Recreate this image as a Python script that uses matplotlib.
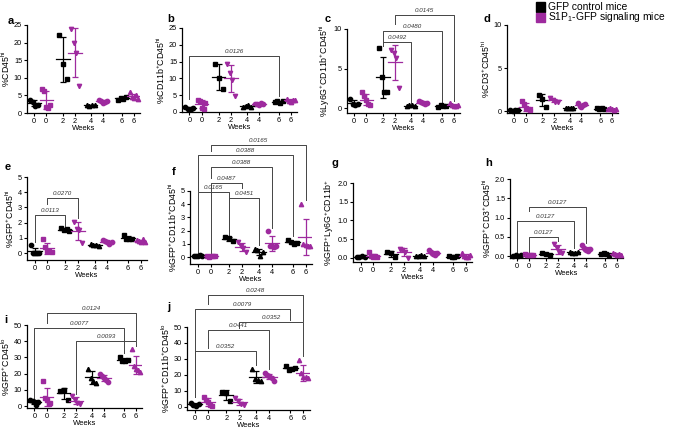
import numpy as np
import matplotlib.pyplot as plt
from matplotlib.patches import Rectangle

plt.rcParams["font.family"] = ["Liberation Sans", "DejaVu Sans"]
plt.rcParams["mathtext.fontset"] = "custom"
plt.rcParams["mathtext.rm"] = "Liberation Sans"
plt.rcParams["mathtext.it"] = "Liberation Sans:italic"

W, H = 676, 428
BLACK = "#000000"
PURPLE = "#9E2A9E"
BRACKET = "#444444"

week_labels = ["0", "0", "2", "2", "4", "4", "6", "6"]
legend_labels = ["GFP control mice", "S1P$_1$-GFP signaling mice"]

# group order: control w0, S1P1 w0, control w2, S1P1 w2, control w4, S1P1 w4, control w6, S1P1 w6
cd45_hi = [[3.8, 3.0, 2.0, 2.4], [6.8, 6.2, 1.7, 1.5, 2.2], [22.2, 13.9, 9.7], [24.0, 20.0, 17.0, 7.6],
           [2.2, 2.0, 2.4, 2.3], [3.6, 3.3, 2.9, 3.1, 3.5], [3.8, 4.4, 4.1, 4.5], [5.9, 4.6, 4.2, 5.0, 4.1]]
cd11b_cd45_hi = [[1.6, 1.0, 0.8, 1.2], [3.6, 3.3, 1.2, 1.0, 2.6], [14.4, 10.2, 6.7], [14.2, 11.5, 9.5, 4.7],
                 [1.6, 1.9, 2.0, 1.5], [2.5, 2.4, 2.2, 2.6, 2.3], [3.0, 3.4, 2.7, 3.2], [3.9, 3.3, 3.0, 3.6, 3.5]]
ly6g_cd11b_cd45_hi = [[1.2, 0.5, 0.4, 0.5], [2.0, 1.5, 1.0, 0.5, 0.4], [7.6, 3.9, 2.0, 2.1], [7.3, 7.0, 6.3, 2.5],
                      [0.3, 0.35, 0.4, 0.3], [0.9, 0.8, 0.6, 0.5, 0.7], [0.2, 0.4, 0.3, 0.25], [0.7, 0.4, 0.3, 0.3, 0.4]]
cd3_cd45_hi = [[0.1, 0.05, 0.15, 0.1], [1.2, 0.8, 0.3, 0.2, 0.1], [1.9, 1.4, 0.5], [1.5, 1.3, 1.1, 1.0],
               [0.4, 0.3, 0.4, 0.35], [0.9, 0.6, 0.5, 0.7, 0.8], [0.3, 0.25, 0.3, 0.2], [0.2, 0.3, 0.25, 0.15, 0.2]]
gfp_cd45_hi = [[0.55, 0.0, 0.0, 0.0, 0.02], [0.9, 0.4, 0.1, 0.1, 0.05], [1.62, 1.5, 1.55, 1.42], [2.05, 1.6, 1.5, 0.65],
               [0.62, 0.5, 0.55, 0.45], [0.85, 0.8, 0.7, 0.6, 0.75], [1.2, 0.95, 0.9, 0.95], [0.85, 0.8, 0.75, 0.9, 0.72]]
gfp_cd11b_cd45_hi = [[0.1, 0.05, 0.1, 0.15, 0.05], [0.05, 0.02, 0.05, 0.08, 0.04], [1.5, 1.45, 1.2], [1.1, 0.8, 0.7, 0.4],
                     [0.6, 0.5, 0.1, 0.4], [2.0, 0.8, 0.8, 0.75, 0.8], [1.3, 1.1, 1.0, 1.05], [4.0, 1.0, 0.9, 0.85, 0.85]]
gfp_ly6g_cd11b = [[0.03, 0.02, 0.04, 0.03], [0.15, 0.05, 0.03, 0.04, 0.02], [0.15, 0.14, 0.02], [0.25, 0.2, 0.15, 0.0],
                  [0.06, 0.05, 0.07, 0.06], [0.2, 0.15, 0.1, 0.08, 0.12], [0.05, 0.03, 0.02, 0.04], [0.12, 0.05, 0.02, 0.03, 0.08]]
gfp_cd3_cd45_hi = [[0.01, 0.02, 0.01, 0.02], [0.05, 0.03, 0.02, 0.04, 0.03], [0.08, 0.05, 0.04], [0.32, 0.2, 0.1, 0.08],
                   [0.1, 0.08, 0.09, 0.11], [0.28, 0.2, 0.15, 0.12, 0.18], [0.05, 0.07, 0.06, 0.04], [0.08, 0.05, 0.04, 0.06, 0.03]]
gfp_cd45_lo = [[3.5, 3.0, 0.5, 2.5], [15.5, 5.0, 4.0, 1.5, 2.0], [9.5, 9.8, 4.0], [6.0, 4.0, 2.0, 1.5],
               [23.0, 17.5, 15.5, 14.5], [19.5, 18.5, 17.5, 16.0, 15.0], [30.0, 28.0, 27.5, 28.5], [35.0, 25.0, 23.0, 22.0, 21.0]]
gfp_cd11b_cd45_lo = [[2.5, 1.5, 0.5, 2.0], [6.0, 4.5, 3.0, 1.5, 0.5], [9.5, 9.0, 4.0], [5.5, 3.5, 2.0, 1.5],
                     [24.0, 17.5, 17.0, 16.5], [21.0, 20.0, 19.5, 18.0, 16.5], [25.5, 23.0, 23.5, 24.5], [29.5, 21.0, 19.0, 18.5, 18.0]]

# significance brackets: (group a, group b, p value)
brackets_b = [(0, 6, "0.0126")]
brackets_c = [(2, 4, "0.0492"), (2, 6, "0.0480"), (3, 7, "0.0145")]
brackets_e = [(0, 2, "0.0113"), (1, 3, "0.0270")]
brackets_f = [(1, 7, "0.0165"), (0, 6, "0.0388"), (1, 5, "0.0388"), (1, 3, "0.0487"), (0, 2, "0.0165"), (2, 4, "0.0451")]
brackets_h = [(1, 5, "0.0127"), (0, 4, "0.0127"), (1, 3, "0.0127")]
brackets_i = [(1, 7, "0.0124"), (0, 6, "0.0077"), (3, 7, "0.0093")]
brackets_j = [(1, 7, "0.0248"), (0, 6, "0.0079"), (3, 7, "0.0352"), (1, 5, "0.0441"), (0, 4, "0.0352")]

x_pos = [0, 1, 2.4, 3.4, 4.7, 5.7, 7.3, 8.3]
colors = [BLACK, PURPLE] * 4
markers = ["o", "s", "s", "v", "^", "o", "s", "^"]

# bracket geometry per panel: (bar height, left end, right end), same order as the bracket lists
geom = {
    "b": [(16.7, 4.0, 4.8)],
    "c": [(8.4, 7.9, 0.7), (9.8, 8.4, 0.6), (11.8, 10.6, 0.9)],
    "e": [(2.5, 0.7, 1.8), (3.6, 3.2, 2.3)],
    "f": [(8.5, 8.0, 4.3), (7.7, 5.0, 1.6), (6.8, 6.0, 2.2), (5.6, 0.3, 5.2), (4.9, 0.3, 1.7), (4.45, 1.7, 0.9)],
    "h": [(1.27, 1.18, 0.33), (0.9, 0.08, 0.2), (0.5, 0.1, 0.38)],
    "i": [(57.4, 51.0, 40.5), (48.1, 4.0, 33.0), (40.1, 7.5, 37.0)],
    "j": [(70.2, 64.5, 54.0), (61.3, 6.0, 54.5), (53.3, 49.5, 32.0), (48.3, 37.0, 24.0), (35.0, 6.0, 26.0)],
}

panels = [
    ("a", cd45_hi, r"%CD45$^{\mathrm{hi}}$", (0, 25), [0, 5, 10, 15, 20, 25], (27, 140, 25, 113), []),
    ("b", cd11b_cd45_hi, r"%CD11b$^{+}$CD45$^{\mathrm{hi}}$", (0, 25), [0, 5, 10, 15, 20, 25], (182, 297, 28, 112), brackets_b),
    ("c", ly6g_cd11b_cd45_hi, r"%Ly6G$^{+}$CD11b$^{+}$CD45$^{\mathrm{hi}}$", (-0.6, 10), [0, 5, 10], (347, 460, 29, 113), brackets_c),
    ("d", cd3_cd45_hi, r"%CD3$^{+}$CD45$^{\mathrm{hi}}$", (-0.23, 10), [0, 5, 10], (507, 618, 25, 113), []),
    ("e", gfp_cd45_hi, r"%GFP$^{+}$CD45$^{\mathrm{hi}}$", (-0.46, 5), [0, 1, 2, 3, 4, 5], (27, 147, 177, 260), brackets_e),
    ("f", gfp_cd11b_cd45_hi, r"%GFP$^{+}$CD11b$^{+}$CD45$^{\mathrm{hi}}$", (-0.53, 5), [0, 1, 2, 3, 4, 5], (190, 312, 191, 264), brackets_f),
    ("g", gfp_ly6g_cd11b, r"%GFP$^{+}$Ly6G$^{+}$CD11b$^{+}$", (-0.107, 2), [0, 0.5, 1.0, 1.5, 2.0], (353, 472, 183, 262), []),
    ("h", gfp_cd3_cd45_hi, r"%GFP$^{+}$CD3$^{+}$CD45$^{\mathrm{hi}}$", (-0.05, 2), [0, 0.5, 1.0, 1.5, 2.0], (510, 623, 179, 258), brackets_h),
    ("i", gfp_cd45_lo, r"%GFP$^{+}$CD45$^{\mathrm{lo}}$", (-1.2, 50), [0, 10, 20, 30, 40, 50], (27, 142, 325, 408), brackets_i),
    ("j", gfp_cd11b_cd45_lo, r"%GFP$^{+}$CD11b$^{+}$CD45$^{\mathrm{lo}}$", (-1.9, 50), [0, 10, 20, 30, 40, 50], (187, 310, 327, 410), brackets_j),
]

letter_pos = {"a": (8, 21), "b": (167, 19), "c": (325, 19), "d": (484, 19), "e": (5, 167),
              "f": (172, 172), "g": (332, 163), "h": (485, 163), "i": (4, 320), "j": (167, 307)}

fig = plt.figure(figsize=(W / 100, H / 100), dpi=100)

for key, groups, ylabel, ylim, yticks, (L, R, top, bottom), brs in panels:
    ax = fig.add_axes([L / W, 1 - bottom / H, (R - L) / W, (bottom - top) / H])
    for k, vals in enumerate(groups):
        vals = np.array(vals)
        n = len(vals)
        xs = x_pos[k] + np.linspace(-0.32, 0.32, n)
        ax.plot(xs, vals, linestyle="none", marker=markers[k], markersize=3.1,
                color=colors[k], zorder=3, clip_on=False)
        m, sd = vals.mean(), vals.std(ddof=1)
        ax.plot([x_pos[k] - 0.55, x_pos[k] + 0.55], [m, m], color=colors[k], lw=0.9, zorder=4)
        ax.errorbar(x_pos[k], m, yerr=sd, color=colors[k], lw=0.9, capsize=2.2,
                    capthick=0.9, zorder=4, clip_on=False)
    for (ga, gb, p), (yb, yl, yr) in zip(brs, geom.get(key, [])):
        xa, xb = x_pos[ga], x_pos[gb]
        ax.plot([xa, xa, xb, xb], [yl, yb, yb, yr], color=BRACKET, lw=0.7, clip_on=False, zorder=2)
        ax.annotate(p, (0.5 * (xa + xb), yb), xytext=(0, 1.5), textcoords="offset points",
                    ha="center", va="bottom", fontsize=4.5, style="italic", color="#333333",
                    annotation_clip=False)

    ax.set_xlim(-0.6, 8.8)
    ax.set_ylim(*ylim)
    ax.set_xticks(x_pos)
    ax.set_xticklabels(week_labels)
    ax.set_yticks(yticks)
    if key in ("g", "h"):
        ax.set_yticklabels([f"{t:.1f}" for t in yticks])
    ax.spines["top"].set_visible(False)
    ax.spines["right"].set_visible(False)
    for s in ("left", "bottom"):
        ax.spines[s].set_linewidth(0.9)
    ax.tick_params(length=2, width=0.8, labelsize=5.3, pad=1.5)
    ax.set_xlabel("Weeks", fontsize=5.5, labelpad=0)
    ax.set_ylabel(ylabel, fontsize=6.3, labelpad=1.5)

    lx, ly = letter_pos[key]
    fig.text(lx / W, 1 - ly / H, key, fontsize=8, fontweight="bold", ha="left", va="center")

# legend
for k, (lab, col) in enumerate(zip(legend_labels, [BLACK, PURPLE])):
    yc = 7 + 10.5 * k
    fig.add_artist(Rectangle((536 / W, 1 - (yc + 4.5) / H), 9 / W, 9 / H,
                             transform=fig.transFigure, color=col))
    fig.text(548 / W, 1 - yc / H, lab, fontsize=7.4, ha="left", va="center")

fig.savefig("out.png", dpi=100)
